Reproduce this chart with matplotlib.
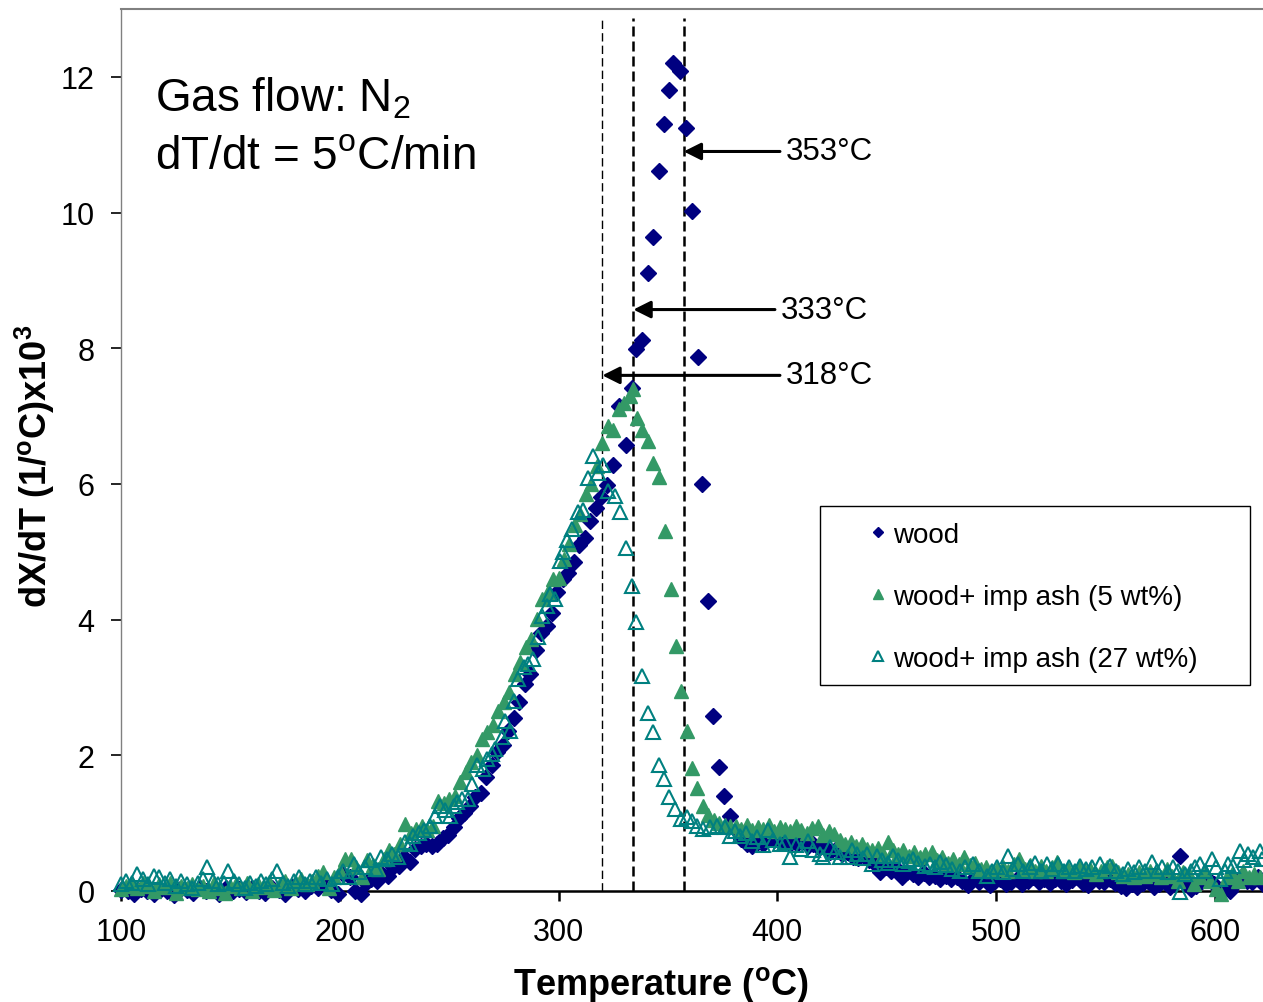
import matplotlib
matplotlib.use("Agg")
import matplotlib.pyplot as plt
from matplotlib.patches import Rectangle

plt.rcParams['font.family'] = ['Liberation Sans', 'DejaVu Sans']
plt.rcParams['mathtext.fontset'] = 'custom'
plt.rcParams['mathtext.rm'] = 'Liberation Sans'
plt.rcParams['mathtext.bf'] = 'Liberation Sans:bold'
plt.rcParams['mathtext.it'] = 'Liberation Sans:italic'

# wood (navy diamonds)
wood_temp = [100, 103, 106, 109, 112, 115, 118, 121, 124, 127, 130, 133, 136, 139, 142, 145, 148,
             151, 154, 157, 160, 163, 166, 169, 172, 175, 178, 181, 184, 187, 190, 193, 196, 199,
             201.5, 204.5, 207, 209.5, 212, 214.5, 217, 219.5, 222, 224.5, 227, 229.5, 232, 234.5,
             237, 239.5, 242, 244.5, 247, 249.5, 252, 254.5, 257, 259.5, 262, 264.5, 267, 269.5,
             272, 274.5, 277, 279.5, 282, 284.5, 287, 289.5, 292, 294.5, 297, 299.5, 302, 304.5,
             307, 309.5, 312, 314.5, 317, 319.5, 322, 325, 327.5, 330.8, 333.5, 335.4, 338.1,
             340.9, 343.1, 345.9, 348.2, 350.5, 352.3, 355.5, 358.2, 361, 363.7, 365.5, 368.3,
             370.6, 373.3, 375.6, 378.3, 381, 383.5, 386, 388.5, 391, 393.5, 396, 398.5,
             401, 403.5, 406, 409, 411.5, 414, 416.5, 419, 421.5, 424, 427, 429.5, 432, 434.5,
             437, 439.5, 442, 444.5, 447, 449.5, 452, 454.5, 457, 459.5, 462, 464.5, 467, 469.5,
             472, 474.5, 477, 479.5, 482, 484.5, 487, 489.5, 492, 494.5, 497, 499.5, 502, 504.5,
             507, 509.5, 512, 514.5, 517, 519.5, 522, 524.5, 527, 529.5, 532, 534.5, 537, 539.5,
             542, 544.5, 547, 549.5, 552, 554.5, 557, 559.5, 562, 564.5, 567, 569.5, 572, 574.5,
             577, 579.5, 582, 584, 586.5, 589, 591.5, 594, 597, 599.5, 602, 604.5, 607, 609.5,
             612, 614.5, 617, 619.5, 622]
wood_dxdt = [0.02, 0.0, -0.04, 0.03, 0.0, -0.05, 0.02, 0.0, -0.06, 0.03, 0.01, -0.03, 0.04, 0.0,
             0.02, -0.04, 0.05, 0.0, 0.03, -0.02, 0.04, 0.0, -0.03, 0.05, 0.02, -0.05, 0.06, 0.03,
             0.0, 0.08, 0.05, 0.1, 0.02, -0.05,
             0.25, 0.2, 0.0, -0.05, 0.12, 0.18, 0.15, 0.25, 0.22, 0.35, 0.37, 0.5, 0.43, 0.62,
             0.66, 0.69, 0.67, 0.7, 0.78, 0.82, 0.95, 1.08, 1.15, 1.26, 1.38, 1.45, 1.68, 1.85,
             2.05, 2.15, 2.36, 2.55, 2.78, 3.05, 3.2, 3.55, 3.8, 3.9, 4.1, 4.4, 4.6, 4.68,
             4.85, 5.1, 5.2, 5.45, 5.65, 5.8, 5.98, 6.28, 7.15, 6.58, 7.41, 7.99, 8.12,
             9.11, 9.64, 10.61, 11.31, 11.81, 12.21, 12.09, 11.25, 10.02, 7.87, 6.0, 4.28,
             2.58, 1.83, 1.4, 1.11, 0.9, 0.77, 0.7, 0.67, 0.72, 0.7, 0.81, 0.75,
             0.72, 0.78, 0.7, 0.69, 0.75, 0.66, 0.7, 0.63, 0.66, 0.58, 0.62, 0.55, 0.57, 0.5,
             0.48, 0.52, 0.45, 0.4, 0.28, 0.35, 0.3, 0.33, 0.2, 0.28, 0.25, 0.2, 0.27, 0.2,
             0.22, 0.17, 0.22, 0.18, 0.2, 0.15, 0.09, 0.18, 0.14, 0.2, 0.09, 0.15, 0.17, 0.1,
             0.14, 0.18, 0.1, 0.15, 0.2, 0.13, 0.17, 0.12, 0.18, 0.15, 0.1, 0.16, 0.2, 0.12,
             0.09, 0.17, 0.15, 0.13, 0.18, 0.12, 0.08, 0.04, 0.1, 0.06, 0.12, 0.15, 0.06, 0.1,
             0.14, 0.06, 0.1, 0.52, 0.12, 0.03, 0.08, 0.15, 0.18, 0.1, -0.02, 0.05, 0.0, 0.12,
             0.2, 0.15, 0.13, 0.2, 0.1]

# wood + impregnated ash, 5 wt% (filled green triangles)
ash5_temp = [100, 102.5, 105, 107.5, 110, 112.5, 115, 117.5, 120, 122.5, 125, 127.5, 130, 132.5,
             135, 137.5, 140, 142.5, 145, 147.5, 150, 152.5, 155, 157.5, 160, 162.5, 165, 167.5,
             170, 172.5, 175, 177.5, 180, 182.5, 185, 187.5, 190, 192.5, 195, 197.5, 200, 202.5,
             205, 207.5, 210, 212.5, 215, 217.5, 220, 222.5, 225, 227.5, 230, 232.5, 235, 237.5,
             240, 242.5, 245, 247.5, 250, 252.5, 255, 257.5, 260, 262.5, 265, 267.5, 270, 272.5,
             275, 277.5, 280, 282.5, 285, 287.5, 290, 292.5, 295, 297.5, 300, 302.5, 305, 307.5,
             310, 312.5, 315, 317.5, 320, 322.5, 325, 327.5, 330, 332.5, 334, 335.8, 338.1, 340.9,
             343.1, 345.9, 348.6, 351.4, 353.5, 355.9, 358.7, 361.2, 363.5, 366, 368.3, 371, 373.5,
             376, 378.5, 381, 383.5, 386, 388.5, 391, 393.5, 396, 398.5, 401, 403.5, 406, 408.5,
             411, 413.5, 416, 418.5, 421, 423.5, 426, 428.5, 431, 433.5, 436, 438.5, 441, 443.5,
             446, 448.5, 450.5, 453, 455, 457.5, 460, 462.5, 465, 467.5, 470.5, 473, 475.5, 478,
             480.5, 483, 485.5, 488, 490.5, 493, 495.5, 498, 500.5, 503, 505.5, 508, 510.5, 513,
             515.5, 518, 520.5, 523, 525.5, 528, 530.5, 533, 535.5, 538, 540.5, 543, 545.5, 548,
             550.5, 553, 555.5, 558, 560.5, 563, 565.5, 568, 570.5, 573, 575.5, 578, 580.5, 583,
             585.5, 588, 590.5, 593, 595.5, 598, 600.5, 603, 605.5, 608, 610.5, 613, 615.5, 618,
             620.5]
ash5_dxdt = [0.03, 0.08, 0.1, 0.05, 0.12, 0.08, 0.0, 0.1, 0.06, 0.12, -0.03, 0.08, 0.05, 0.1,
             0.03, 0.07, 0.0, 0.12, 0.05, -0.03, 0.08, 0.1, 0.04, 0.12, 0.0, 0.1, 0.06, 0.13,
             0.02, 0.1, 0.15, 0.05, 0.12, 0.18, 0.1, 0.15, 0.22, 0.28, 0.05, 0.2, 0.3, 0.47,
             0.47, 0.35, 0.2, 0.45, 0.38, 0.32, 0.47, 0.6, 0.55, 0.7, 0.99, 0.85, 0.92, 0.96,
             0.9, 0.96, 1.33, 1.3, 1.36, 1.4, 1.6, 1.75, 1.9, 2.0, 2.24, 2.35, 2.44, 2.65,
             2.79, 2.94, 3.2, 3.38, 3.6, 3.72, 4.01, 4.3, 4.41, 4.6, 4.62, 4.9, 5.12, 5.4,
             5.55, 5.85, 6.0, 6.26, 6.6, 6.85, 6.79, 7.1, 7.2, 7.3, 7.4, 6.97, 6.8, 6.64,
             6.31, 6.1, 5.3, 4.45, 3.61, 2.95, 2.36, 1.82, 1.52, 1.25, 1.12, 1.05, 1.0,
             0.98, 0.96, 0.96, 0.92, 0.98, 0.9, 0.95, 0.92, 0.98, 0.88, 0.95, 0.92, 0.88, 0.96,
             0.9, 0.85, 0.93, 0.96, 0.82, 0.89, 0.84, 0.75, 0.69, 0.72, 0.66, 0.69, 0.62, 0.6,
             0.63, 0.55, 0.72, 0.6, 0.55, 0.6, 0.52, 0.58, 0.5, 0.55, 0.58, 0.45, 0.5, 0.42,
             0.47, 0.4, 0.5, 0.38, 0.42, 0.32, 0.36, 0.3, 0.32, 0.36, 0.3, 0.4, 0.47, 0.33,
             0.38, 0.3, 0.37, 0.3, 0.35, 0.43, 0.3, 0.33, 0.28, 0.35, 0.3, 0.32, 0.25, 0.3,
             0.35, 0.37, 0.28, 0.22, 0.25, 0.2, 0.28, 0.22, 0.3, 0.25, 0.2, 0.32, 0.22, 0.15,
             0.28, 0.25, 0.1, 0.2, 0.3, 0.15, 0.03, -0.05, 0.2, 0.25, 0.15, 0.3, 0.2, 0.25,
             0.2]

# wood + impregnated ash, 27 wt% (open teal triangles)
ash27_temp = [100, 102.5, 105, 107.5, 110, 112.5, 115, 117.5, 120, 122.5, 125, 127.5, 130, 132.5,
              135, 137.5, 139.5, 142, 144.5, 147, 149, 151.5, 154, 156.5, 159, 161.5, 164, 166.5,
              169, 171.5, 174, 176.5, 179, 181.5, 184, 186.5, 189, 191.5, 194, 196.5, 199,
              201.5, 204, 206.5, 209, 211.5, 214, 216.5, 219, 221.6, 224, 226.5, 229.8, 232,
              233.5, 236, 238.5, 241.2, 243.5, 245.8, 248, 250.4, 252, 253.6, 256, 258.6, 260.4,
              262.7, 265.4, 267.5, 269.6, 271, 274.1, 275.5, 277.8, 279.5, 281.4, 284, 286, 288.3,
              290.6, 292.4, 294.5, 296.1, 298.3, 300.6, 302, 303.8, 306.1, 308.9, 311.2, 313.4,
              315.7, 318, 320.3, 322.6, 325.8, 328, 330.8, 333.5, 335.4, 338.1, 340.9, 343.1,
              345.9, 348.2, 350.5, 353.2, 355.9, 358.7, 361, 363.3, 366, 369.2, 372.4, 376, 378.3,
              380.5, 382.9, 385.5, 388.4, 390.5, 393.4, 395.7, 398, 401, 403.5, 405.7, 408.5, 411,
              414, 416.5, 419.5, 421, 424, 426.5, 428.6, 432.3, 434, 436.3, 439, 441, 443.2, 445.5,
              448, 450.5, 452.8, 455, 457.4, 460, 462, 464.5, 467.4, 470, 472, 474.3, 477, 480,
              483.4, 486, 489.4, 492, 495.8, 498, 500.5, 503, 505.4, 507.7, 510, 512.5, 515.4, 518,
              520.5, 523.2, 525.5, 528.3, 531, 533.5, 536, 538.3, 541, 544, 547.4, 550, 552, 555,
              558, 560.5, 563, 565.5, 568, 571.2, 573.5, 576, 578.5, 580.8, 583, 584, 586.5, 589,
              591, 593, 595.5, 598.6, 600.5, 602.3, 604.5, 606, 608.2, 611.4, 613.5, 615, 617.5,
              620.5, 621.5]
ash27_dxdt = [0.1, 0.15, 0.12, 0.25, 0.18, 0.1, 0.22, 0.2, 0.12, 0.18, 0.08, 0.15, 0.1, 0.05,
              0.12, 0.18, 0.35, 0.15, 0.1, 0.12, 0.3, 0.15, 0.1, 0.05, 0.12, 0.08, 0.15, 0.1,
              0.18, 0.3, 0.12, 0.08, 0.15, 0.2, 0.1, 0.15, 0.2, 0.12, 0.18, 0.1, 0.2,
              0.3, 0.2, 0.4, 0.28, 0.35, 0.45, 0.32, 0.5, 0.47, 0.55, 0.5, 0.72, 0.7,
              0.81, 0.85, 0.9, 0.96, 1.1, 1.26, 1.2, 1.11, 1.25, 1.31, 1.35, 1.36, 1.58,
              1.85, 1.8, 1.95, 2.02, 2.1, 2.27, 2.51, 2.36, 2.8, 3.13, 3.3, 3.35, 3.42,
              3.75, 4.06, 4.2, 4.38, 4.31, 4.87, 5.0, 5.17, 5.34, 5.59, 5.61, 6.08,
              6.41, 6.16, 6.28, 5.89, 5.82, 5.59, 5.05, 4.5, 3.97, 3.17, 2.62, 2.35,
              1.85, 1.65, 1.39, 1.21, 1.06, 1.09, 1.03, 0.96, 0.92, 0.94, 0.96, 0.94, 0.81,
              0.88, 0.81, 0.85, 0.73, 0.8, 0.68, 0.9, 0.75, 0.69, 0.72, 0.5, 0.68, 0.62,
              0.74, 0.6, 0.55, 0.5, 0.65, 0.58, 0.5, 0.5, 0.6, 0.55, 0.48, 0.55, 0.4, 0.52,
              0.45, 0.42, 0.52, 0.45, 0.4, 0.44, 0.47, 0.42, 0.37, 0.4, 0.35, 0.43, 0.38, 0.32,
              0.3, 0.35, 0.4, 0.3, 0.22, 0.3, 0.35, 0.28, 0.52, 0.32, 0.4, 0.3, 0.35, 0.42,
              0.3, 0.4, 0.33, 0.4, 0.3, 0.36, 0.3, 0.37, 0.32, 0.35, 0.4, 0.3, 0.37, 0.3,
              0.25, 0.32, 0.28, 0.35, 0.3, 0.43, 0.3, 0.35, 0.28, 0.35, 0.3, -0.02, 0.25, 0.3,
              0.35, 0.4, 0.3, 0.47, 0.35, 0.18, 0.3, 0.4, 0.37, 0.59, 0.45, 0.55, 0.5,
              0.59, 0.47]

# peak temperature markers
peak_lines = [320, 334.2, 357.2]
peak_widths = [1.0, 1.8, 1.8]
peak_labels = ['318°C', '333°C', '353°C']
arrow_y = [7.6, 8.57, 10.9]
arrow_tail = [401.2, 398.9, 401.2]

fig = plt.figure(figsize=(12.63, 10.03), dpi=100)
ax = fig.add_axes([121 / 1263, 111 / 1003, 1142 / 1263, 882 / 1003])

wood_line, = ax.plot(wood_temp, wood_dxdt, ls='none', marker='D', ms=8, color='#000080',
                     clip_on=False, zorder=3)
ash5_line, = ax.plot(ash5_temp, ash5_dxdt, ls='none', marker='^', ms=10.5, color='#339966',
                     mec='#339966', clip_on=False, zorder=4)
ash27_line, = ax.plot(ash27_temp, ash27_dxdt, ls='none', marker='^', ms=10, mfc='none',
                      mec='#008080', mew=1.5, clip_on=False, zorder=5)

for x, w in zip(peak_lines, peak_widths):
    ax.axvline(x, ymin=0, ymax=0.99, color='black', lw=w, ls=(0, (6, 3) if w < 1.5 else (4, 2)),
               zorder=2)

for x, y, tail, lab in zip(peak_lines, arrow_y, arrow_tail, peak_labels):
    ax.annotate('', xy=(x, y), xytext=(tail, y),
                arrowprops=dict(arrowstyle='-|>', lw=2.2, color='black', mutation_scale=26,
                                shrinkA=0, shrinkB=0))
    ax.text(tail + 2.8, y, lab, fontsize=22.5, va='center', ha='left')

ax.text(115.5, 11.5, 'Gas flow: N$_2$', fontsize=33, va='baseline')
ax.text(115.5, 10.66, 'dT/dt = 5$^{\\rm o}$C/min', fontsize=33, va='baseline')

ax.set_xlim(100, 622)
ax.set_ylim(0, 13)
ax.set_xticks([100, 200, 300, 400, 500, 600])
ax.set_yticks([0, 2, 4, 6, 8, 10, 12])
ax.tick_params(axis='both', labelsize=22, direction='out', length=7, width=1.2, color='black')
ax.tick_params(axis='y', pad=12)
ax.tick_params(axis='x', pad=12, width=1.8)

ax.spines['right'].set_visible(False)
ax.spines['top'].set_color('#808080')
ax.spines['top'].set_linewidth(1.5)
ax.spines['left'].set_color('#808080')
ax.spines['left'].set_linewidth(1.0)
ax.spines['bottom'].set_color('black')
ax.spines['bottom'].set_linewidth(1.8)

ax.set_xlabel('Temperature ($\\mathbf{^o}$C)', fontsize=26, fontweight='bold', va='center')
ax.xaxis.set_label_coords(0.473, -0.106)
ax.set_ylabel('dX/dT (1/$\\mathbf{^o}$C)x10$\\mathbf{^3}$', fontsize=26, fontweight='bold',
              va='center')
ax.yaxis.set_label_coords(-0.0753, 0.483)

fig.patches.append(Rectangle((820 / 1263, 1 - 686 / 1003), 430 / 1263, 179 / 1003,
                             transform=fig.transFigure, fill=False, ec='black', lw=1.0))
ax.legend([wood_line, ash5_line, ash27_line],
          ['wood', 'wood+ imp ash (5 wt%)', 'wood+ imp ash (27 wt%)'],
          loc='upper left', bbox_to_anchor=(869.7 / 1263, 1 - 523 / 1003),
          bbox_transform=fig.transFigure, frameon=False, borderpad=0, borderaxespad=0,
          handlelength=0.6, handletextpad=0.25, labelspacing=1.29, fontsize=20,
          markerscale=0.7, numpoints=1)

fig.savefig('out.png', dpi=100)
